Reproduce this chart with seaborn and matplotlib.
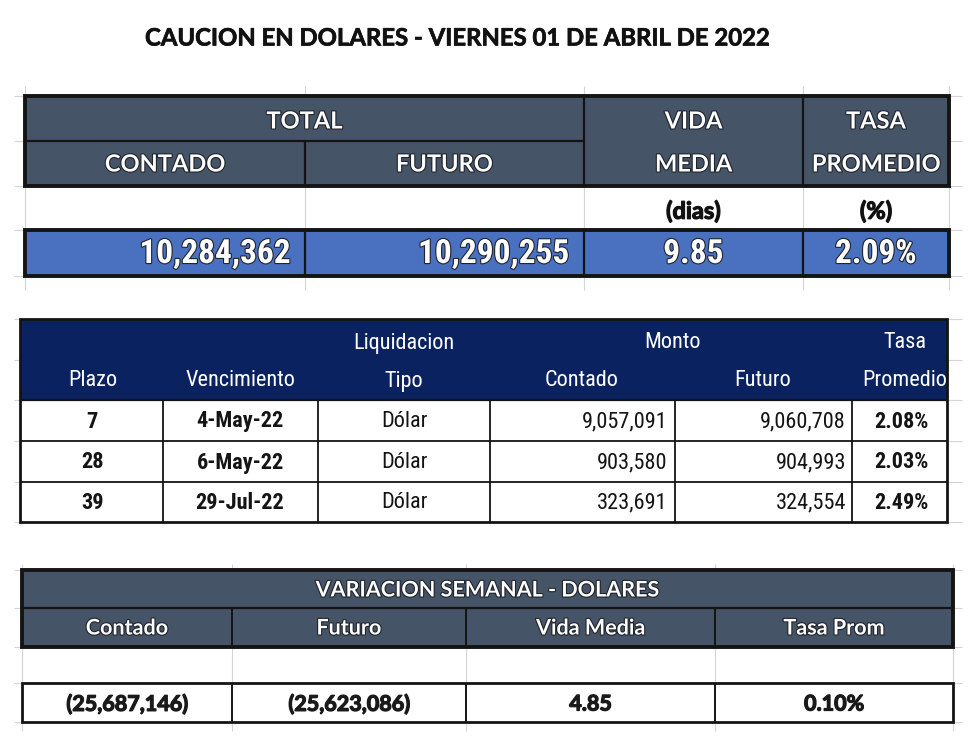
import matplotlib
matplotlib.use("Agg")
import matplotlib.pyplot as plt
import matplotlib.patches as mpatches
import matplotlib.patheffects as pe
from matplotlib import font_manager
import seaborn as sns

# ---------------- data ----------------
title = "CAUCION EN DOLARES - VIERNES 01 DE ABRIL DE 2022"

total_group = "TOTAL"
total_headers = ["CONTADO", "FUTURO"]
vida_header = ["VIDA", "MEDIA"]
tasa_header = ["TASA", "PROMEDIO"]
units = ["(dias)", "(%)"]
total_contado = 10284362
total_futuro = 10290255
vida_media = 9.85
tasa_promedio = 2.09

det_header_top = ["", "", "Liquidacion", "Monto", "", "Tasa"]
det_header_bot = ["Plazo", "Vencimiento", "Tipo", "Contado", "Futuro", "Promedio"]
plazo = [7, 28, 39]
vencimiento = ["4-May-22", "6-May-22", "29-Jul-22"]
tipo = ["Dólar", "Dólar", "Dólar"]
monto_contado = [9057091, 903580, 323691]
monto_futuro = [9060708, 904993, 324554]
tasa = [2.08, 2.03, 2.49]

var_title = "VARIACION SEMANAL - DOLARES"
var_headers = ["Contado", "Futuro", "Vida Media", "Tasa Prom"]
var_contado = -25687146
var_futuro = -25623086
var_vida = 4.85
var_tasa = 0.10

# ---------------- style ----------------
sns.set_theme(style="white")
plt.rcParams["font.family"] = ["Lato", "DejaVu Sans"]

# look for a condensed sans face
NARROW_STRETCH = "normal"
NARROW = None
cands = {}
for f in font_manager.fontManager.ttflist:
    low = (f.fname + f.name).lower()
    if "narrow" in low or "condensed" in low:
        cands.setdefault(f.name, []).append(f)
for pref in ["Liberation Sans Narrow", "Roboto Condensed", "Open Sans Condensed",
             "DejaVu Sans Condensed", "Noto Sans Condensed"]:
    if pref in cands:
        NARROW = [pref, "DejaVu Sans"]
        break
if NARROW is None:
    for fam, lst in cands.items():
        NARROW = [fam, "DejaVu Sans"]
        NARROW_STRETCH = "condensed"
        break
if NARROW is None:
    NARROW = ["Liberation Sans", "DejaVu Sans"]
CAL = ["Lato", "DejaVu Sans"]
NARROW_SCALE = 1.0 if NARROW[0] != "Liberation Sans" else 0.85

SLATE = "#465467"
BLUE = "#4a70c0"
NAVY = "#0b2260"
GRID = "#d4d4d4"
INK = "#141414"

fig = plt.figure(figsize=(9.8, 7.51), dpi=100)
ax = fig.add_axes([0, 0, 1, 1])
ax.set_xlim(0, 980)
ax.set_ylim(751, 0)
ax.axis("off")

shadow = [pe.withStroke(linewidth=1.6, foreground="#20242c")]
heavy = [pe.withStroke(linewidth=0.9, foreground="#1a1a1a")]


def rect(x0, y0, x1, y1, fc, z=1):
    ax.add_patch(mpatches.Rectangle((x0, y0), x1 - x0, y1 - y0, facecolor=fc,
                                    edgecolor="none", zorder=z))


def frame(x0, y0, x1, y1, lw):
    ax.add_patch(mpatches.Rectangle((x0, y0), x1 - x0, y1 - y0, fill=False,
                                    edgecolor=INK, linewidth=lw, zorder=4))


def vline(x, y0, y1, lw, c=INK, z=3):
    ax.plot([x, x], [y0, y1], color=c, lw=lw, zorder=z, solid_capstyle="butt")


def hline(y, x0, x1, lw, c=INK, z=3):
    ax.plot([x0, x1], [y, y], color=c, lw=lw, zorder=z, solid_capstyle="butt")


def txt(x, y, s, size, color="white", ha="center", fam=CAL, weight="bold", eff=None):
    kw = {}
    if fam is NARROW:
        size = size * NARROW_SCALE
        kw["fontstretch"] = NARROW_STRETCH
    t = ax.text(x, y, s, fontsize=size, color=color, ha=ha, va="center",
                family=fam, fontweight=weight, zorder=5, **kw)
    if eff:
        t.set_path_effects(eff)


def money(v):
    return f"({abs(v):,})" if v < 0 else f"{v:,}"


# ---------------- title ----------------
txt(456, 38, title, 17.2, color="#111111", eff=[pe.withStroke(linewidth=0.5, foreground="#111111")])

# ---------------- table 1 ----------------
X1 = [25, 305, 584, 803, 949]
Y1 = [96, 141, 186, 230, 276]
for x in X1:
    vline(x, 86, 290, 0.8, GRID, z=0.5)
for y in Y1:
    hline(y, 14, 25, 0.8, GRID, z=0.5)
    hline(y, 949, 962, 0.8, GRID, z=0.5)
rect(X1[0], Y1[0], X1[4], Y1[2], SLATE)
rect(X1[0], Y1[3], X1[4], Y1[4], BLUE)
frame(X1[0], Y1[0], X1[4], Y1[2], 2.8)
frame(X1[0], Y1[3], X1[4], Y1[4], 2.8)
hline(Y1[1], X1[0], X1[2], 1.6)
vline(X1[1], Y1[1], Y1[2], 1.6)
vline(X1[2], Y1[0], Y1[2], 1.6)
vline(X1[3], Y1[0], Y1[2], 1.6)
for x in X1[1:4]:
    vline(x, Y1[3], Y1[4], 1.6)

txt((X1[0] + X1[2]) / 2, 121, total_group, 17, eff=shadow)
txt((X1[0] + X1[1]) / 2, 164, total_headers[0], 17, eff=shadow)
txt((X1[1] + X1[2]) / 2, 164, total_headers[1], 17, eff=shadow)
txt((X1[2] + X1[3]) / 2, 121, vida_header[0], 17, eff=shadow)
txt((X1[2] + X1[3]) / 2, 164, vida_header[1], 17, eff=shadow)
txt((X1[3] + X1[4]) / 2, 121, tasa_header[0], 17, eff=shadow)
txt((X1[3] + X1[4]) / 2, 164, tasa_header[1], 17, eff=shadow)
txt((X1[2] + X1[3]) / 2, 211, units[0], 17, color="#111111", eff=heavy)
txt((X1[3] + X1[4]) / 2, 211, units[1], 17, color="#111111", eff=heavy)

txt(291, 254, money(total_contado), 24, ha="right", fam=NARROW, eff=shadow)
txt(570, 254, money(total_futuro), 24, ha="right", fam=NARROW, eff=shadow)
txt((X1[2] + X1[3]) / 2, 254, f"{vida_media:.2f}", 24, fam=NARROW, eff=shadow)
txt((X1[3] + X1[4]) / 2, 254, f"{tasa_promedio:.2f}%", 24, fam=NARROW, eff=shadow)

# ---------------- table 2 ----------------
X2 = [20, 163, 318, 490, 675, 852, 947]
Y2 = [319, 400, 441, 482, 522]
for y in [319, 360, 400, 441, 482, 522]:
    hline(y, 14, 20, 0.8, GRID, z=0.5)
    hline(y, 947, 962, 0.8, GRID, z=0.5)
rect(X2[0], Y2[0], X2[-1], Y2[1], NAVY)
hline(Y2[2], X2[0], X2[-1], 1.3)
hline(Y2[3], X2[0], X2[-1], 1.3)
for x in X2[1:-1]:
    vline(x, Y2[1], Y2[4], 1.3)
frame(X2[0], Y2[0], X2[-1], Y2[4], 2.0)
hline(Y2[1], X2[0], X2[-1], 1.6)

top_x = [92, 240, 404, 672, 763, 905]
bot_x = [93, 240, 404, 582, 763, 905]
for s, x in zip(det_header_top, top_x):
    if s:
        txt(x, 343, s, 16, fam=NARROW, weight="normal")
for s, x in zip(det_header_bot, bot_x):
    txt(x, 381, s, 16, fam=NARROW, weight="normal")

for i in range(len(plazo)):
    yc = (Y2[i + 1] + Y2[i + 2]) / 2 + 1
    txt(92, yc, str(plazo[i]), 16, color=INK, fam=NARROW)
    txt(240, yc, vencimiento[i], 16, color=INK, fam=NARROW)
    txt(404, yc, tipo[i], 16, color=INK, fam=NARROW, weight="normal")
    txt(667, yc, money(monto_contado[i]), 16, color=INK, ha="right", fam=NARROW, weight="normal")
    txt(846, yc, money(monto_futuro[i]), 16, color=INK, ha="right", fam=NARROW, weight="normal")
    txt(901, yc, f"{tasa[i]:.2f}%", 16, color=INK, fam=NARROW)

# ---------------- table 3 ----------------
X3 = [22, 232, 466, 715, 953]
Y3 = [570, 608, 647, 683, 722]
for x in X3:
    vline(x, 564, 731, 0.8, GRID, z=0.5)
for y in Y3:
    hline(y, 14, 22, 0.8, GRID, z=0.5)
    hline(y, 953, 962, 0.8, GRID, z=0.5)
rect(X3[0], Y3[0], X3[-1], Y3[2], SLATE)
rect(X3[0], Y3[3], X3[-1], Y3[4], "white")
frame(X3[0], Y3[0], X3[-1], Y3[2], 2.8)
frame(X3[0], Y3[3], X3[-1], Y3[4], 2.0)
hline(Y3[1], X3[0], X3[-1], 1.6)
for x in X3[1:-1]:
    vline(x, Y3[1], Y3[2], 1.4)
    vline(x, Y3[3], Y3[4], 1.4)

txt((X3[0] + X3[-1]) / 2, 590, var_title, 15.5, eff=shadow)
for s, a, b in zip(var_headers, X3[:-1], X3[1:]):
    txt((a + b) / 2, 628, s, 15.5, eff=shadow)
vals = [money(var_contado), money(var_futuro), f"{var_vida:.2f}", f"{var_tasa:.2f}%"]
for s, a, b in zip(vals, X3[:-1], X3[1:]):
    txt((a + b) / 2, 704, s, 15.5, color="#1a1a1a", eff=heavy)

fig.savefig("out.png", dpi=100, facecolor="white")
